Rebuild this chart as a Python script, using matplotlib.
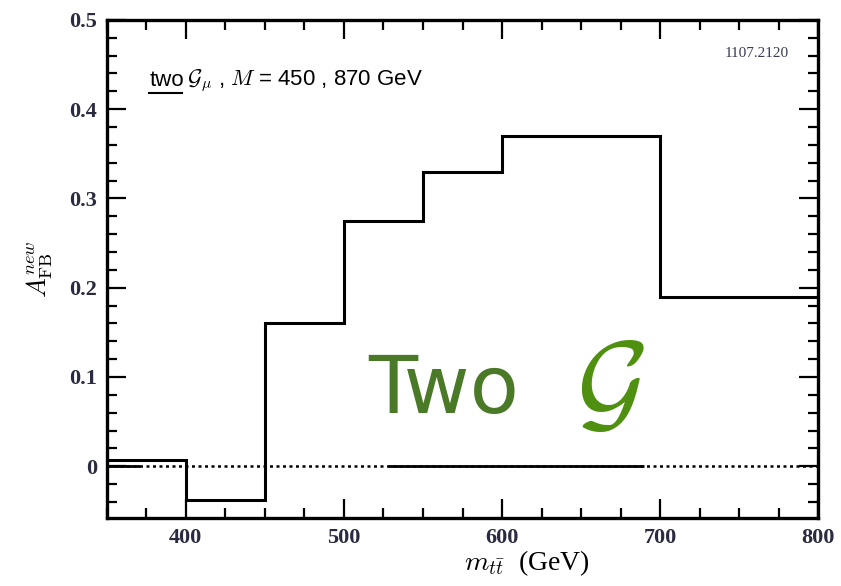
import matplotlib
matplotlib.use('Agg')
import matplotlib.pyplot as plt
from matplotlib.ticker import MultipleLocator

# bin edges in m_tt (GeV) and the asymmetry in each bin
bin_edges = [350, 400, 450, 500, 550, 600, 700, 800]
afb_new = [0.007, -0.038, 0.16, 0.275, 0.33, 0.37, 0.19]

# solid pieces of the zero reference line
zero_solid = [(350, 371), (528, 690)]

plt.rcParams['font.family'] = ['Liberation Serif', 'DejaVu Serif']
plt.rcParams['mathtext.fontset'] = 'cm'

fig = plt.figure(figsize=(8.41, 5.86), dpi=100)
ax = fig.add_axes([0.127, 0.116, 0.846, 0.85])

ax.stairs(afb_new, bin_edges, color='black', linewidth=2.2, baseline=None)

ax.axhline(0, color='black', linestyle=(0, (1.2, 1.4)), linewidth=1.8)
for x0, x1 in zero_solid:
    ax.plot([x0, x1], [0, 0], color='black', linewidth=2.0, solid_capstyle='butt')

ax.set_xlim(350, 800)
ax.set_ylim(-0.058, 0.5)
ax.xaxis.set_major_locator(MultipleLocator(100))
ax.xaxis.set_minor_locator(MultipleLocator(25))
ax.yaxis.set_major_locator(MultipleLocator(0.1))
ax.yaxis.set_minor_locator(MultipleLocator(0.02))
ax.set_yticks([0, 0.1, 0.2, 0.3, 0.4, 0.5])
ax.set_yticklabels(['0', '0.1', '0.2', '0.3', '0.4', '0.5'])
ax.tick_params(which='both', direction='in', top=True, right=True,
               width=1.6, labelsize=16, colors='black', labelcolor='#2a2a40')
ax.tick_params(which='major', length=14, pad=7)
ax.tick_params(which='minor', length=7)
for lab in ax.get_xticklabels() + ax.get_yticklabels():
    lab.set_fontweight('bold')
for s in ax.spines.values():
    s.set_linewidth(2.4)

ax.set_xlabel(r'$m_{t\bar{t}}$  (GeV)', fontsize=20, labelpad=0)
ax.xaxis.set_label_coords(0.59, -0.06)
ax.set_ylabel(r'$A_{\rm FB}^{new}$', fontsize=19, labelpad=10)

# process label with underlined "two"
ax.text(0.06, 0.868, 'two', transform=ax.transAxes, fontsize=16,
        ha='left', va='baseline', family='Liberation Sans')
ax.plot([0.06, 0.105], [0.854, 0.854], transform=ax.transAxes,
        color='black', linewidth=1.5)
ax.text(0.113, 0.868, r'$\mathcal{G}_\mu$ , $M$ = 450 , 870 GeV',
        transform=ax.transAxes, fontsize=16, ha='left', va='baseline',
        family='Liberation Sans')
ax.text(0.958, 0.925, '1107.2120', transform=ax.transAxes, fontsize=11,
        ha='right', va='baseline', color='#3a3a55')

# big green annotation
fig.text(0.438, 0.295, 'Two', fontsize=58, color='#4a7a28',
         family='DejaVu Sans', ha='left', va='baseline')
fig.text(0.685, 0.285, r'$\mathcal{G}$', fontsize=80, color='#4f9010',
         ha='left', va='baseline')

fig.savefig('out.png', dpi=100)
